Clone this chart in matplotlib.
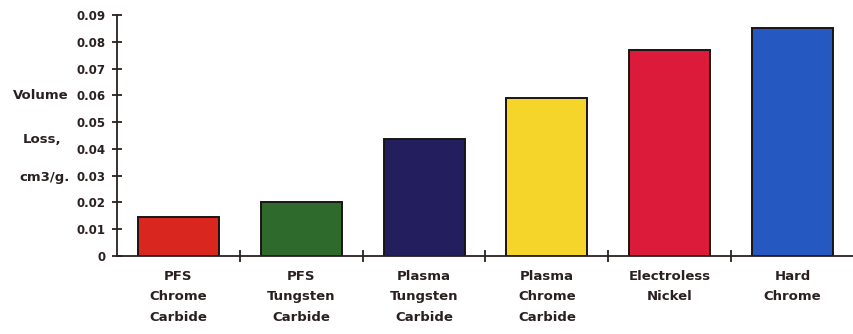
import numpy as np
import matplotlib.pyplot as plt
from matplotlib.ticker import FixedLocator

# Coating data
coatings = ['PFS\nChrome\nCarbide', 'PFS\nTungsten\nCarbide', 'Plasma\nTungsten\nCarbide',
            'Plasma\nChrome\nCarbide', 'Electroless\nNickel', 'Hard\nChrome']
volume_loss = [0.0145, 0.0201, 0.0437, 0.0590, 0.0770, 0.0852]
bar_colors = ['#d9261f', '#2d6a2c', '#231f5e', '#f6d52a', '#dc1b3b', '#2559c1']
y_ticks = [0, 0.01, 0.02, 0.03, 0.04, 0.05, 0.06, 0.07, 0.08, 0.09]
y_tick_labels = ['0', '0.01', '0.02', '0.03', '0.04', '0.05', '0.06', '0.07', '0.08', '0.09']

ink = '#2b2020'
plt.rcParams['font.family'] = ['DejaVu Sans']
plt.rcParams['font.weight'] = 'bold'

fig = plt.figure(figsize=(8.54, 3.34), dpi=100)
ax = fig.add_axes([0.137, 0.234, 0.863, 0.721])

x = np.arange(len(coatings))
ax.bar(x, volume_loss, width=0.66, color=bar_colors, edgecolor='#1a1414', linewidth=1.4)

ax.set_xlim(-0.5, 5.5)
ax.set_ylim(0, 0.09)

ax.spines['top'].set_visible(False)
ax.spines['right'].set_visible(False)
for s in ['left', 'bottom']:
    ax.spines[s].set_color(ink)
    ax.spines[s].set_linewidth(1.3)

# y ticks
ax.set_yticks(y_ticks)
ax.set_yticklabels(y_tick_labels)
ax.tick_params(axis='y', direction='inout', length=7, width=1.3, color=ink,
               labelsize=8.5, labelcolor=ink, pad=5)

# x ticks: labels at centers, tick marks between categories
ax.set_xticks(x)
ax.set_xticklabels(coatings, linespacing=1.75)
ax.tick_params(axis='x', which='major', length=0, labelsize=9.5, labelcolor=ink, pad=10)
ax.xaxis.set_minor_locator(FixedLocator(x[:-1] + 0.5))
ax.tick_params(axis='x', which='minor', direction='inout', length=8, width=1.3, color=ink)

# y axis label, split over three lines like the original
fig.text(0.048, 0.715, 'Volume', ha='center', va='center', fontsize=9.5, color=ink)
fig.text(0.049, 0.582, 'Loss,', ha='center', va='center', fontsize=9.5, color=ink)
fig.text(0.052, 0.470, 'cm3/g.', ha='center', va='center', fontsize=9.5, color=ink)

fig.savefig('out.png', dpi=100)
